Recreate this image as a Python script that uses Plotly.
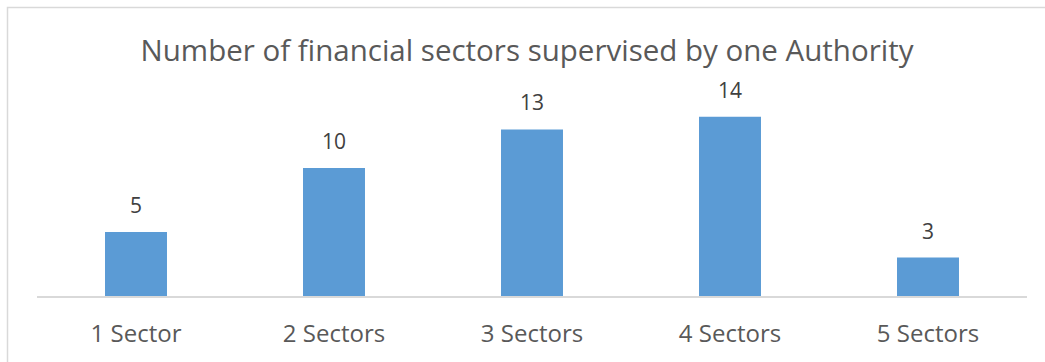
import plotly.graph_objects as go

categories = ["1 Sector", "2 Sectors", "3 Sectors", "4 Sectors", "5 Sectors"]
counts = [5, 10, 13, 14, 3]
title_text = "Number of financial sectors supervised by one Authority"

W, H = 1045, 362
L, R, T, B = 37, 18, 91, 66
plot_w = W - L - R
plot_h = H - T - B

fig = go.Figure(
    go.Bar(
        x=categories,
        y=counts,
        marker=dict(color="#5B9BD5", line=dict(width=0)),
        width=0.313,
        hoverinfo="x+y",
    )
)

# value labels above each bar
for c, v in zip(categories, counts):
    fig.add_annotation(
        x=c, y=v, text=str(v), showarrow=False,
        yanchor="bottom", yshift=11,
        font=dict(family="Open Sans", size=21, color="#404040"),
    )

# outer chart frame (top and left edges visible)
fig.add_shape(
    type="rect", xref="paper", yref="paper",
    x0=(7.5 - L) / plot_w, x1=(W + 5 - L) / plot_w,
    y0=-(H + 5 - T - plot_h) / plot_h, y1=(H - 7.5 - B) / plot_h,
    line=dict(color="#D9D9D9", width=1.5), fillcolor="rgba(0,0,0,0)",
    layer="below",
)

fig.update_layout(
    width=W, height=H,
    margin=dict(l=L, r=R, t=T, b=B),
    paper_bgcolor="white", plot_bgcolor="white",
    showlegend=False,
    title=dict(
        text=title_text,
        x=(527 - L) / plot_w, xref="paper", xanchor="center",
        y=1 - 51 / H, yref="container", yanchor="middle",
        font=dict(family="Open Sans", size=29.5, color="#595959"),
    ),
    xaxis=dict(
        showgrid=False, showline=True, linecolor="#D9D9D9", linewidth=1.5,
        ticks="", tickfont=dict(family="Open Sans", size=24, color="#595959"),
        ticklabelstandoff=15,
    ),
    yaxis=dict(
        range=[0, 16], visible=False, showgrid=False, zeroline=False,
    ),
)

fig.write_html("out.html")
